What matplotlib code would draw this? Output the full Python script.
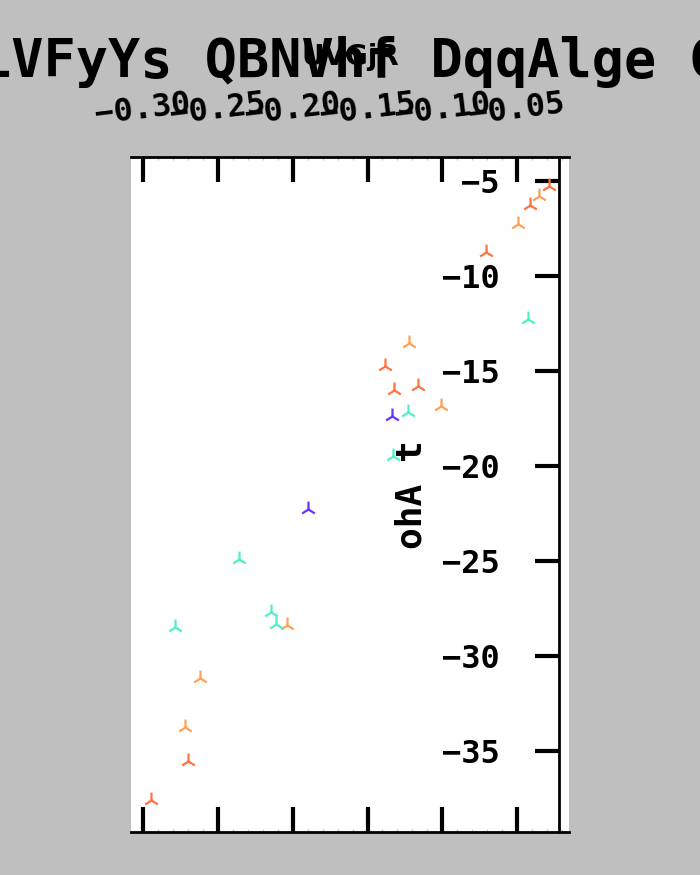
import matplotlib
matplotlib.use("Agg")
import matplotlib.pyplot as plt
from matplotlib.ticker import MultipleLocator

# ---- data ----
series_names = ["A", "B", "C", "D"]
colors = ["#FF7340", "#FFA055", "#4FF0C8", "#6633FF"]

x_a = [-0.0286, -0.0415, -0.0705, -0.1382, -0.1324, -0.1163, -0.2697, -0.2948]
y_a = [-5.26, -6.26, -8.77, -14.77, -16.00, -15.82, -35.53, -37.58]

x_b = [-0.0353, -0.0494, -0.1224, -0.1011, -0.2040, -0.2618, -0.2721]
y_b = [-5.79, -7.28, -13.54, -16.84, -28.38, -31.17, -33.77]

x_c = [-0.0427, -0.1230, -0.1331, -0.2362, -0.2145, -0.2112, -0.2786]
y_c = [-12.28, -17.19, -19.47, -24.91, -27.72, -28.33, -28.51]

x_d = [-0.1337, -0.1900]
y_d = [-17.37, -22.28]

xs = [x_a, x_b, x_c, x_d]
ys = [y_a, y_b, y_c, y_d]

y_limits = (-39.28, -3.75)

title_text = "LVFyYs QBNVhf DqqAlge C"
sub_text = "UVGjR"
ylabel_text = "ohA t"

mono = "DejaVu Sans Mono"

fig = plt.figure(figsize=(7, 8.75), dpi=100, facecolor="#bfbfbf")
ax = fig.add_axes([131 / 700, 43 / 875, 438 / 700, 675 / 875])
ax.set_facecolor("white")

for x, y, c in zip(xs, ys, colors):
    ax.scatter(x, y, marker="2", s=130, color=c, linewidths=1.6, zorder=3)

ax.set_ylim(*y_limits)

# spines
ax.spines["right"].set_visible(False)
ax.spines["left"].set_position(("axes", 0.977))
for s in ["left", "top", "bottom"]:
    ax.spines[s].set_linewidth(2)

# x axis
ax.xaxis.set_major_locator(MultipleLocator(0.05))
ax.xaxis.set_minor_locator(MultipleLocator(0.01))
ax.tick_params(axis="x", which="both", top=True, bottom=True,
               labeltop=True, labelbottom=False, direction="in")
ax.tick_params(axis="x", which="major", length=18, width=3, pad=19,
               labelsize=23, labelrotation=7)
ax.tick_params(axis="x", which="minor", length=2.5, width=1, color="#c8c8c8")

# y axis
ax.yaxis.set_major_locator(MultipleLocator(5))
ax.tick_params(axis="y", which="major", left=True, right=False,
               direction="out", length=17.5, width=3, pad=25, labelsize=23)
ax.tick_params(axis="y", which="minor", left=False, right=False)

for lab in ax.get_xticklabels() + ax.get_yticklabels():
    lab.set_fontfamily(mono)
    lab.set_fontweight("bold")

ax.set_ylabel(ylabel_text, fontsize=26, fontweight="bold", family=mono, labelpad=10)

ax.set_title(sub_text, fontsize=20, fontweight="bold", family="DejaVu Sans",
             y=(832 - 73) / 675, va="baseline")
fig.suptitle(title_text, x=0.5, y=1 - 77 / 875, va="baseline",
             fontsize=38.5, fontweight="bold", family=mono)

fig.savefig("out.png", dpi=100, facecolor=fig.get_facecolor())
